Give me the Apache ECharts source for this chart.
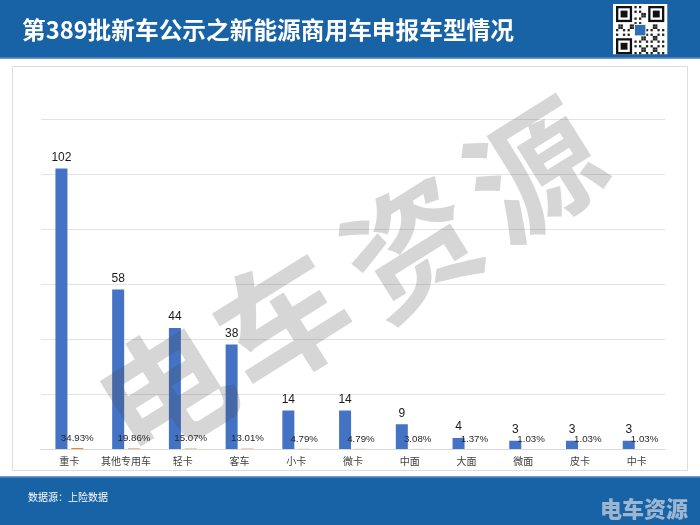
<!DOCTYPE html>
<html>
<head>
<meta charset="utf-8">
<script src="https://cdn.jsdelivr.net/npm/echarts@6/dist/echarts.min.js"></script>
<style>html,body{margin:0;padding:0;background:#fff}#c{width:700px;height:525px}</style>
</head>
<body>
<div id="c"></div>
<script>
var categories = ['重卡','其他专用车','轻卡','客车','小卡','微卡','中面','大面','微面','皮卡','中卡'];
var counts = [102, 58, 44, 38, 14, 14, 9, 4, 3, 3, 3];
var shares = [34.93, 19.86, 15.07, 13.01, 4.79, 4.79, 3.08, 1.37, 1.03, 1.03, 1.03];
var yTicks = [0, 20, 40, 60, 80, 100, 120];
var titleText = '第389批新车公示之新能源商用车申报车型情况';
var sourceText = '数据源：上险数据';
var brandText = '电车资源';

var FONT = '"Noto Sans CJK SC", "Liberation Sans", sans-serif';
var chart = echarts.init(document.getElementById('c'), null, {renderer: 'canvas'});

// fake QR decoration
var qr = [];
var qx = 616, qy = 5, cell = 2.3, n = 21;
qr.push({type:'rect', shape:{x:qx-3,y:qy-1,width:n*cell+6,height:n*cell+2}, style:{fill:'#fff'}});
function finder(cx, cy){
  qr.push({type:'rect', shape:{x:qx+cx*cell,y:qy+1+cy*cell,width:7*cell,height:7*cell}, style:{fill:'#111'}});
  qr.push({type:'rect', shape:{x:qx+(cx+1)*cell,y:qy+1+(cy+1)*cell,width:5*cell,height:5*cell}, style:{fill:'#fff'}});
  qr.push({type:'rect', shape:{x:qx+(cx+2)*cell,y:qy+1+(cy+2)*cell,width:3*cell,height:3*cell}, style:{fill:'#111'}});
}
for (var i = 0; i < n; i++) {
  for (var j = 0; j < n; j++) {
    var inF = (i < 8 && j < 8) || (i > 12 && j < 8) || (i < 8 && j > 12);
    if (inF) continue;
    var h = ((i * 7 + j * 13 + i * j * 3) % 5);
    if (h < 2) qr.push({type:'rect', shape:{x:qx+i*cell,y:qy+1+j*cell,width:cell,height:cell}, style:{fill:'#222'}});
  }
}
finder(0,0); finder(14,0); finder(0,14);
qr.push({type:'rect', shape:{x:qx+8*cell,y:qy+1+8*cell,width:5*cell,height:5*cell}, style:{fill:'#2f6fb8', stroke:'#fff', lineWidth:1}});

var wm = [];
var wmPos = [[165,390],[282,320],[411,247],[534,170]];
for (var k = 0; k < 4; k++) {
  wm.push({type:'text', x: wmPos[k][0], y: wmPos[k][1], rotation: 0.56, z: 100,
    style:{text: brandText.charAt(k), fill:'rgba(70,70,70,0.22)', font:'bold 130px "Noto Sans CJK SC"', textAlign:'center', textVerticalAlign:'middle'}});
}

var graphics = [
  {type:'rect', shape:{x:0,y:0,width:700,height:58}, style:{fill:'#1862a6'}},
  {type:'rect', shape:{x:0,y:57.5,width:700,height:1.5}, style:{fill:'#6e9bd0'}},
  {type:'text', x:22, y:30, style:{text:titleText, fill:'#fff', font:'bold 23.7px "Noto Sans CJK SC"', textVerticalAlign:'middle'}},
  {type:'rect', shape:{x:12.5,y:66.5,width:675,height:404}, style:{fill:'none', stroke:'#dcdcdc', lineWidth:1}},
  {type:'rect', shape:{x:0,y:477,width:700,height:48}, style:{fill:'#1862a6'}},
  {type:'rect', shape:{x:0,y:476,width:700,height:1.5}, style:{fill:'#6e9bd0'}},
  {type:'text', x:28, y:497, style:{text:sourceText, fill:'#fff', font:'10px "Noto Sans CJK SC"', textVerticalAlign:'middle'}},
  {type:'text', x:688, y:509, style:{text:brandText, fill:'rgba(190,202,220,0.8)', font:'900 22px "Noto Sans CJK SC"', textAlign:'right', textVerticalAlign:'middle'}}
].concat(qr).concat(wm);

chart.setOption({
  animation: false,
  backgroundColor: '#fff',
  grid: {left: 41, right: 35, top: 119, bottom: 76, containLabel: false},
  xAxis: {
    type: 'category', data: categories,
    axisLine: {lineStyle: {color: '#d9d9d9'}},
    axisTick: {show: false},
    axisLabel: {color: '#404040', fontSize: 10, fontFamily: FONT, margin: 7, interval: 0}
  },
  yAxis: {
    type: 'value', min: yTicks[0], max: yTicks[yTicks.length-1], interval: yTicks[1]-yTicks[0],
    axisLine: {show: false}, axisTick: {show: false}, axisLabel: {show: false},
    splitLine: {lineStyle: {color: '#e3e3e3'}}
  },
  series: [
    {type: 'bar', data: counts, barWidth: 12, barGap: '32%',
     itemStyle: {color: '#4472c4'},
     label: {show: true, position: 'top', distance: 5, color: '#1a1a1a', fontSize: 12, fontFamily: '"Liberation Sans", Arial, sans-serif'}},
    {type: 'bar', data: shares.map(function(v){return v/100;}), barWidth: 12,
     itemStyle: {color: '#ed7d31'},
     label: {show: true, position: 'top', distance: 5, color: '#262626', fontSize: 9.7, fontFamily: '"Liberation Sans", Arial, sans-serif',
       formatter: function(p){ return shares[p.dataIndex].toFixed(2) + '%'; }}}
  ],
  graphic: {elements: graphics}
});
</script>
</body>
</html>
